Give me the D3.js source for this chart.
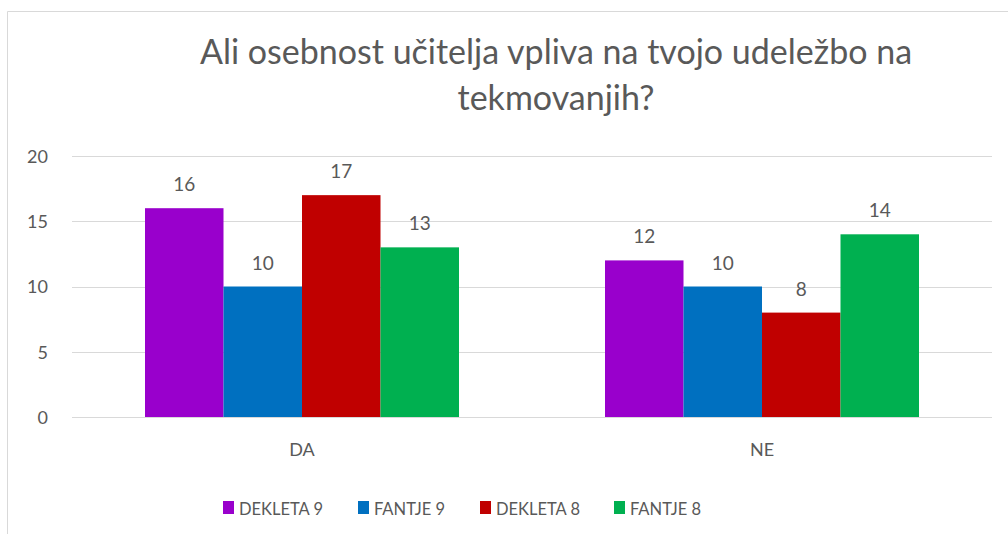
<!DOCTYPE html>
<html><head><meta charset="utf-8">
<script src="https://cdn.jsdelivr.net/npm/d3@7"></script>
<style>body{margin:0;background:#fff;}svg{display:block;font-family:Lato, "Open Sans", sans-serif;}</style>
</head><body>
<svg id="c" width="1008" height="534"></svg>
<script>
const categories = ["DA", "NE"];
const seriesNames = ["DEKLETA 9", "FANTJE 9", "DEKLETA 8", "FANTJE 8"];
const seriesColors = ["#9900CC", "#0070C0", "#C00000", "#00B050"];
const dekleta9 = [16, 12];
const fantje9 = [10, 10];
const dekleta8 = [17, 8];
const fantje8 = [13, 14];
const yTicks = [0, 5, 10, 15, 20];
const titleLines = ["Ali osebnost učitelja vpliva na tvojo udeležbo na", "tekmovanjih?"];

const seriesValues = [dekleta9, fantje9, dekleta8, fantje8];
const svg = d3.select("#c");
const txt = "#595959";

// chart border
svg.append("path").attr("d", "M7.5,534 V11.5 H1008").attr("fill", "none").attr("stroke", "#d9d9d9").attr("stroke-width", 1);

// title
svg.append("g").selectAll("text").data(titleLines).join("text")
  .attr("x", 556).attr("y", (d, i) => 64 + i * 46)
  .attr("text-anchor", "middle").attr("font-size", 34).attr("fill", txt)
  .text(d => d);

const x0 = d3.scaleBand().domain(categories).range([72, 992]).paddingInner(0).paddingOuter(0);
const x1 = d3.scaleBand().domain(seriesNames).range([0, x0.bandwidth()]).paddingInner(0).paddingOuter(0.93);
const y = d3.scaleLinear().domain([0, 20]).range([417, 156]);

// y axis labels and gridlines
const yAxis = d3.axisLeft(y).tickValues(yTicks).tickSize(0).tickPadding(0);
const gy = svg.append("g").attr("transform", "translate(48,0)").call(yAxis);
gy.select(".domain").remove();
gy.selectAll("text").attr("font-size", 18).attr("fill", txt).attr("font-family", "Lato, sans-serif").attr("dy", "0.35em");
svg.append("g").selectAll("line").data(yTicks).join("line")
  .attr("x1", 72).attr("x2", 992).attr("y1", d => Math.round(y(d)) + 0.5).attr("y2", d => Math.round(y(d)) + 0.5)
  .attr("stroke", "#d9d9d9").attr("stroke-width", 1);

// bars
const groups = svg.append("g").selectAll("g").data(categories).join("g")
  .attr("transform", d => `translate(${x0(d)},0)`);
const rows = (c, ci) => seriesNames.map((s, si) => ({s, si, v: seriesValues[si][ci]}));
groups.selectAll("rect").data(rows).join("rect")
  .attr("x", d => x1(d.s)).attr("width", x1.bandwidth())
  .attr("y", d => y(d.v)).attr("height", d => y(0) - y(d.v))
  .attr("fill", d => seriesColors[d.si]);
groups.selectAll("text.lbl").data(rows).join("text")
  .attr("class", "lbl")
  .attr("x", d => x1(d.s) + x1.bandwidth() / 2).attr("y", d => y(d.v) - 17)
  .attr("text-anchor", "middle").attr("font-size", 19).attr("fill", txt).text(d => d.v);

// x axis labels
const xAxis = d3.axisBottom(x0).tickSize(0).tickPadding(0);
const gx = svg.append("g").attr("transform", "translate(0,456)").call(xAxis);
gx.select(".domain").remove();
gx.selectAll("text").attr("font-size", 18).attr("fill", txt).attr("font-family", "Lato, sans-serif").attr("dy", 0);

// legend
const legX = [223, 358, 480, 614];
const leg = svg.append("g").selectAll("g").data(seriesNames).join("g")
  .attr("transform", (d, i) => `translate(${legX[i]},501)`);
leg.append("rect").attr("width", 11).attr("height", 13).attr("fill", (d, i) => seriesColors[i]);
leg.append("text").attr("x", 16).attr("y", 13.5).attr("font-size", 16.5).attr("fill", txt).text(d => d);
</script>
</body></html>
